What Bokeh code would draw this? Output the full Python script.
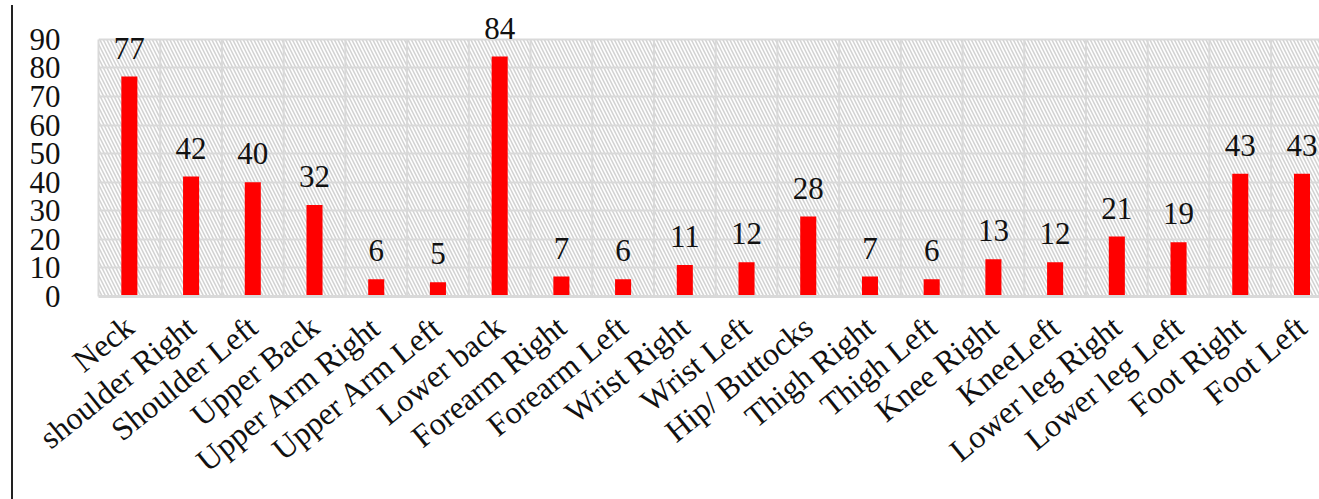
from bokeh.plotting import figure
from bokeh.models import Range1d, FixedTicker, BoxAnnotation, Div, ColumnDataSource, LabelSet
from bokeh.layouts import row
from bokeh.embed import file_html
from bokeh.resources import INLINE

categories = ["Neck", "shoulder Right", "Shoulder Left", "Upper Back", "Upper Arm Right",
              "Upper Arm Left", "Lower back", "Forearm Right", "Forearm Left", "Wrist Right",
              "Wrist Left", "Hip/ Buttocks", "Thigh Right", "Thigh Left", "Knee Right",
              "KneeLeft", "Lower leg Right", "Lower leg Left", "Foot Right", "Foot Left"]
counts = [77, 42, 40, 32, 6, 5, 84, 7, 6, 11, 12, 28, 7, 6, 13, 12, 21, 19, 43, 43]
y_ticks = [0, 10, 20, 30, 40, 50, 60, 70, 80, 90]

n = len(categories)
xs = list(range(n))
y_max = y_ticks[-1]
src = ColumnDataSource(dict(x=xs, y=counts, label=[str(c) for c in counts]))

FONT = "Liberation Serif"
GRID = "#d9d9d9"

# extra headroom above 90 so value labels (e.g. 84) are not clipped
p = figure(width=1302, height=499, output_backend="svg", toolbar_location=None,
           x_range=Range1d(-0.5, 19.3), y_range=Range1d(0, 98),
           min_border_left=80, min_border_right=0, min_border_top=16, min_border_bottom=203)
p.outline_line_color = None
p.background_fill_color = "white"
p.border_fill_color = "white"

# hatched plot-area background (0..90 only)
bg = BoxAnnotation(bottom=0, top=y_max, fill_color="white", fill_alpha=1.0, line_color=None,
                   hatch_pattern="\\", hatch_color="#d3d3d3", hatch_weight=1.6,
                   hatch_scale=7, level="image")
p.add_layout(bg)

# vertical grid lines between categories, limited to 0..90
bounds = [i - 0.5 for i in range(1, n)]
p.segment(x0=bounds, y0=[0] * len(bounds), x1=bounds, y1=[y_max] * len(bounds),
          line_color=GRID, line_width=2, level="underlay")
p.xgrid.grid_line_color = None
p.ygrid.ticker = FixedTicker(ticks=y_ticks)
p.ygrid.grid_line_color = GRID
p.ygrid.grid_line_width = 2

p.vbar(x="x", top="y", width=0.26, source=src, fill_color="#ff0000", line_color=None)

labels = LabelSet(x="x", y="y", text="label", source=src, text_align="center",
                  text_baseline="alphabetic", y_offset=18, text_font=FONT,
                  text_font_size="31px", text_color="#111111")
p.add_layout(labels)

# x axis
p.xaxis.ticker = FixedTicker(ticks=xs)
p.xaxis.major_label_overrides = {i: c for i, c in enumerate(categories)}
p.xaxis.major_label_orientation = 0.68
p.xaxis.major_label_text_font = FONT
p.xaxis.major_label_text_font_size = "32px"
p.xaxis.major_label_text_color = "#111111"
p.xaxis.major_label_standoff = 20
p.xaxis.major_tick_line_color = None
p.xaxis.minor_tick_line_color = None
p.xaxis.axis_line_color = GRID
p.xaxis.axis_line_width = 3

# y axis
p.yaxis.ticker = FixedTicker(ticks=y_ticks)
p.yaxis.bounds = (0, y_max)
p.yaxis.major_label_text_font = FONT
p.yaxis.major_label_text_font_size = "31px"
p.yaxis.major_label_text_color = "#111111"
p.yaxis.major_label_standoff = 32
p.yaxis.major_tick_line_color = None
p.yaxis.minor_tick_line_color = None
p.yaxis.axis_line_color = GRID
p.yaxis.axis_line_width = 2

edge = Div(text="", width=8, height=499,
           styles={"border-right": "2px solid #222222", "box-sizing": "border-box"})

layout = row(edge, p, spacing=0)

open("out.html", "w").write(file_html(layout, INLINE))
